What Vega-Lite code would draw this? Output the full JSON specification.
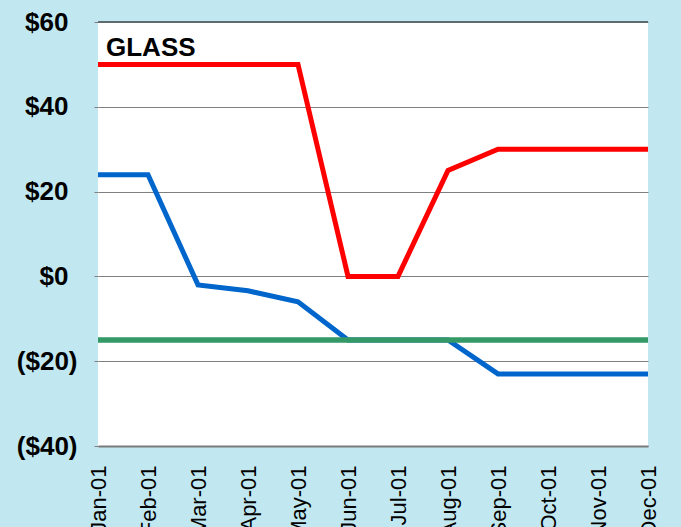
{
  "$schema": "https://vega.github.io/schema/vega-lite/v6.json",
  "width": 550,
  "height": 424,
  "autosize": {"type": "none"},
  "padding": {"left": 98, "top": 22, "right": 33, "bottom": 81},
  "background": "#C1E8F0",
  "config": {
    "view": {"fill": "white", "stroke": null},
    "font": "Liberation Sans"
  },
  "layer": [
    {
      "data": {
        "values": [
          {"month": "Jan-01", "series": "red", "value": 50},
          {"month": "Feb-01", "series": "red", "value": 50},
          {"month": "Mar-01", "series": "red", "value": 50},
          {"month": "Apr-01", "series": "red", "value": 50},
          {"month": "May-01", "series": "red", "value": 50},
          {"month": "Jun-01", "series": "red", "value": 0},
          {"month": "Jul-01", "series": "red", "value": 0},
          {"month": "Aug-01", "series": "red", "value": 25},
          {"month": "Sep-01", "series": "red", "value": 30},
          {"month": "Oct-01", "series": "red", "value": 30},
          {"month": "Nov-01", "series": "red", "value": 30},
          {"month": "Dec-01", "series": "red", "value": 30},
          {"month": "Jan-01", "series": "blue", "value": 24},
          {"month": "Feb-01", "series": "blue", "value": 24},
          {"month": "Mar-01", "series": "blue", "value": -2},
          {"month": "Apr-01", "series": "blue", "value": -3.4},
          {"month": "May-01", "series": "blue", "value": -6},
          {"month": "Jun-01", "series": "blue", "value": -15},
          {"month": "Jul-01", "series": "blue", "value": -15},
          {"month": "Aug-01", "series": "blue", "value": -15},
          {"month": "Sep-01", "series": "blue", "value": -23},
          {"month": "Oct-01", "series": "blue", "value": -23},
          {"month": "Nov-01", "series": "blue", "value": -23},
          {"month": "Dec-01", "series": "blue", "value": -23},
          {"month": "Jan-01", "series": "green", "value": -15},
          {"month": "Feb-01", "series": "green", "value": -15},
          {"month": "Mar-01", "series": "green", "value": -15},
          {"month": "Apr-01", "series": "green", "value": -15},
          {"month": "May-01", "series": "green", "value": -15},
          {"month": "Jun-01", "series": "green", "value": -15},
          {"month": "Jul-01", "series": "green", "value": -15},
          {"month": "Aug-01", "series": "green", "value": -15},
          {"month": "Sep-01", "series": "green", "value": -15},
          {"month": "Oct-01", "series": "green", "value": -15},
          {"month": "Nov-01", "series": "green", "value": -15},
          {"month": "Dec-01", "series": "green", "value": -15}
        ]
      },
      "encoding": {
        "x": {
          "field": "month",
          "type": "ordinal",
          "sort": null,
          "scale": {"type": "point", "padding": 0},
          "axis": {
            "title": null,
            "labelAngle": -90,
            "labelAlign": "right",
            "labelBaseline": "middle",
            "labelFontSize": 22,
            "labelColor": "black",
            "labelPadding": 19,
            "ticks": false,
            "grid": false,
            "domainColor": "#7a7a7a",
            "domainWidth": 2
          }
        },
        "y": {
          "field": "value",
          "type": "quantitative",
          "scale": {"domain": [-40, 60], "nice": false},
          "axis": {
            "title": null,
            "values": [-40, -20, 0, 20, 40, 60],
            "labelExpr": "datum.value < 0 ? '($' + abs(datum.value) + ')' : '$' + datum.value",
            "labelFontSize": 26,
            "labelFontWeight": "bold",
            "labelColor": "black",
            "labelPadding": {"condition": {"test": "datum.value < 0", "value": 17}, "value": 26},
            "ticks": true,
            "tickSize": 4,
            "tickColor": "#7f7f7f",
            "domain": false,
            "grid": true,
            "gridColor": "#7f7f7f",
            "gridWidth": 1.2
          }
        }
      },
      "layer": [
        {
          "transform": [{"filter": "datum.series == 'blue'"}],
          "mark": {"type": "line", "color": "#0066CC", "strokeWidth": 5}
        },
        {
          "transform": [{"filter": "datum.series == 'green'"}],
          "mark": {"type": "line", "color": "#339966", "strokeWidth": 5.5}
        },
        {
          "transform": [{"filter": "datum.series == 'red'"}],
          "mark": {"type": "line", "color": "#FF0000", "strokeWidth": 5}
        }
      ]
    },
    {
      "data": {"values": [{"label": "GLASS"}]},
      "mark": {"type": "rule", "stroke": "#5e6b70", "strokeWidth": 2},
      "encoding": {"y": {"datum": 60}}
    },
    {
      "data": {"values": [{"label": "GLASS"}]},
      "mark": {"type": "text", "fontSize": 26, "fontWeight": "bold", "fill": "black", "align": "left", "baseline": "alphabetic", "dx": 8, "dy": 34},
      "encoding": {
        "text": {"field": "label"},
        "x": {"datum": "Jan-01"},
        "y": {"datum": 60}
      }
    }
  ]
}
